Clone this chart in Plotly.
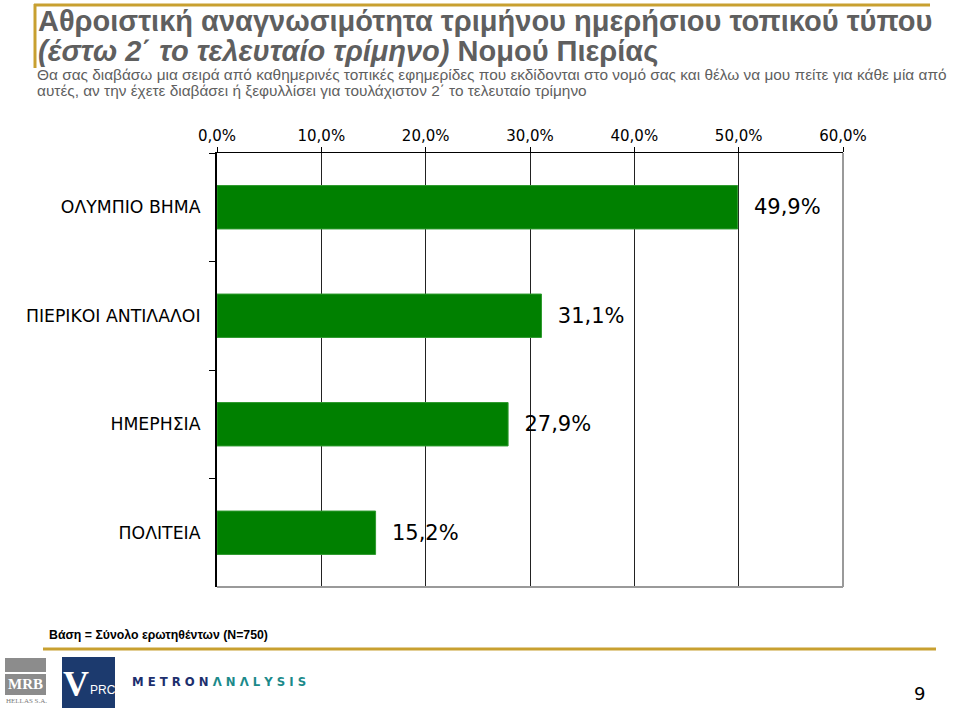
import plotly.graph_objects as go

# ---- data ----
categories = ["ΟΛΥΜΠΙΟ ΒΗΜΑ", "ΠΙΕΡΙΚΟΙ ΑΝΤΙΛΑΛΟΙ", "ΗΜΕΡΗΣΙΑ", "ΠΟΛΙΤΕΙΑ"]
values = [49.9, 31.1, 27.9, 15.2]
x_ticks = [0, 10, 20, 30, 40, 50, 60]
x_tick_labels = ["0,0%", "10,0%", "20,0%", "30,0%", "40,0%", "50,0%", "60,0%"]

title_line1 = "Αθροιστική αναγνωσιμότητα τριμήνου ημερήσιου τοπικού τύπου"
title_line2_italic = "(έστω 2΄ το τελευταίο τρίμηνο)"
title_line2_rest = " Νομού Πιερίας"
subtitle1 = "Θα σας διαβάσω μια σειρά από καθημερινές τοπικές εφημερίδες που εκδίδονται στο νομό σας και θέλω να μου πείτε για κάθε μία από"
subtitle2 = "αυτές, αν την έχετε διαβάσει ή ξεφυλλίσει για τουλάχιστον 2΄ το τελευταίο τρίμηνο"
base_note = "Βάση = Σύνολο ερωτηθέντων (N=750)"
page_number = "9"

W, H = 959, 709
L, R, T, B = 217, 843, 153, 587

def px(x):
    return (x - L) / (R - L)

def py(y):
    return (B - y) / (B - T)

GOLD = "#C8A030"
GREY_TXT = "#5f5f5f"

fig = go.Figure()
fig.add_trace(go.Bar(
    x=values, y=categories, orientation="h",
    marker=dict(color="#008000", line=dict(color="#2e9a2e", width=1)),
    text=values, texttemplate="  %{x:.1f}%", textposition="outside",
    textfont=dict(family="DejaVu Sans", size=21, color="#000"),
    cliponaxis=False, hoverinfo="skip",
))

fig.update_layout(
    width=W, height=H,
    margin=dict(l=L, r=W - R, t=T, b=H - B, pad=0),
    paper_bgcolor="white", plot_bgcolor="white",
    separators=",.",
    showlegend=False,
    bargap=0.6,
    font=dict(family="DejaVu Sans", color="#000"),
)
fig.update_xaxes(
    side="top", range=[0, 60], tickvals=x_ticks, ticktext=x_tick_labels,
    showgrid=True, gridcolor="#222", gridwidth=1,
    showline=True, linecolor="#000", linewidth=1,
    ticks="outside", ticklen=5, tickcolor="#000",
    tickfont=dict(family="DejaVu Sans", size=15, color="#000"),
    zeroline=False, fixedrange=True,
)
fig.update_yaxes(
    type="category", categoryorder="array", categoryarray=categories,
    autorange="reversed",
    showline=True, linecolor="#000", linewidth=2,
    ticks="outside", tickson="boundaries", ticklen=6, tickcolor="#000",
    tickfont=dict(family="DejaVu Sans", size=17.3, color="#000"),
    ticklabelstandoff=11,
    showgrid=False, fixedrange=True,
)

shapes = []
# plot border right and bottom (grey)
shapes.append(dict(type="line", xref="paper", yref="paper", x0=1, x1=1, y0=0, y1=1,
                   line=dict(color="#9a9a9a", width=2), layer="above"))
shapes.append(dict(type="line", xref="paper", yref="paper", x0=0, x1=1, y0=0, y1=0,
                   line=dict(color="#9a9a9a", width=2), layer="above"))
# gold decorations
shapes.append(dict(type="line", xref="paper", yref="paper", x0=px(34), x1=px(930), y0=py(5), y1=py(5),
                   line=dict(color=GOLD, width=3)))
shapes.append(dict(type="line", xref="paper", yref="paper", x0=px(35), x1=px(35), y0=py(4), y1=py(68),
                   line=dict(color=GOLD, width=3)))
shapes.append(dict(type="line", xref="paper", yref="paper", x0=px(43), x1=px(936), y0=py(649), y1=py(649),
                   line=dict(color=GOLD, width=3)))
# MRB logo
shapes.append(dict(type="rect", xref="paper", yref="paper", x0=px(5), x1=px(46), y0=py(672), y1=py(658),
                   fillcolor="#8c8c8c", line=dict(width=0)))
shapes.append(dict(type="rect", xref="paper", yref="paper", x0=px(5), x1=px(46), y0=py(695), y1=py(674),
                   fillcolor="#8c8c8c", line=dict(width=0)))
# VPRC logo
shapes.append(dict(type="rect", xref="paper", yref="paper", x0=px(62), x1=px(115), y0=py(708), y1=py(657),
                   fillcolor="#1c3a6e", line=dict(width=0)))
fig.update_layout(shapes=shapes)

ann = []
ann.append(dict(x=px(36), y=py(39), xref="paper", yref="paper", xanchor="left", yanchor="bottom",
                text="<b>" + title_line1 + "</b>", showarrow=False,
                font=dict(family="Liberation Sans", size=29, color=GREY_TXT)))
ann.append(dict(x=px(36), y=py(69), xref="paper", yref="paper", xanchor="left", yanchor="bottom",
                text="<b><i>" + title_line2_italic + "</i>" + title_line2_rest + "</b>", showarrow=False,
                font=dict(family="Liberation Sans", size=29, color=GREY_TXT)))
ann.append(dict(x=px(36), y=py(84), xref="paper", yref="paper", xanchor="left", yanchor="bottom",
                text=subtitle1, showarrow=False, borderpad=0,
                font=dict(family="Liberation Sans", size=15.4, color=GREY_TXT)))
ann.append(dict(x=px(36), y=py(100), xref="paper", yref="paper", xanchor="left", yanchor="bottom",
                text=subtitle2, showarrow=False, borderpad=0,
                font=dict(family="Liberation Sans", size=15.4, color=GREY_TXT)))
ann.append(dict(x=px(47), y=py(644), xref="paper", yref="paper", xanchor="left", yanchor="bottom",
                text="<b>" + base_note + "</b>", showarrow=False,
                font=dict(family="Liberation Sans", size=12.3, color="#000")))
ann.append(dict(x=px(25.5), y=py(684), xref="paper", yref="paper", xanchor="center", yanchor="middle",
                text="<b>MRB</b>", showarrow=False,
                font=dict(family="Liberation Serif", size=15, color="#ffffff")))
ann.append(dict(x=px(26), y=py(701), xref="paper", yref="paper", xanchor="center", yanchor="middle",
                text="HELLAS S.A.", showarrow=False,
                font=dict(family="Liberation Serif", size=7, color="#7a7a7a")))
ann.append(dict(x=px(76), y=py(684), xref="paper", yref="paper", xanchor="center", yanchor="middle",
                text="<b>V</b>", showarrow=False, borderpad=0,
                font=dict(family="Liberation Serif", size=36, color="#ffffff")))
ann.append(dict(x=px(103), y=py(690), xref="paper", yref="paper", xanchor="center", yanchor="middle",
                text="PRC", showarrow=False, borderpad=0,
                font=dict(family="Liberation Sans", size=12, color="#ffffff")))
ann.append(dict(x=px(130), y=py(682), xref="paper", yref="paper", xanchor="left", yanchor="middle",
                text="<b><span style='color:#1c2f6e'>M E T R O N </span><span style='color:#1b8a8a'>Λ N Λ L Y S I S</span></b>",
                showarrow=False, font=dict(family="DejaVu Sans", size=11.7)))
ann.append(dict(x=px(919), y=py(693), xref="paper", yref="paper", xanchor="center", yanchor="middle",
                text=page_number, showarrow=False,
                font=dict(family="DejaVu Sans", size=18, color="#000")))
fig.update_layout(annotations=ann)

fig.write_html("out.html", config={"displayModeBar": False},
               post_script="document.body.style.margin='0';")
